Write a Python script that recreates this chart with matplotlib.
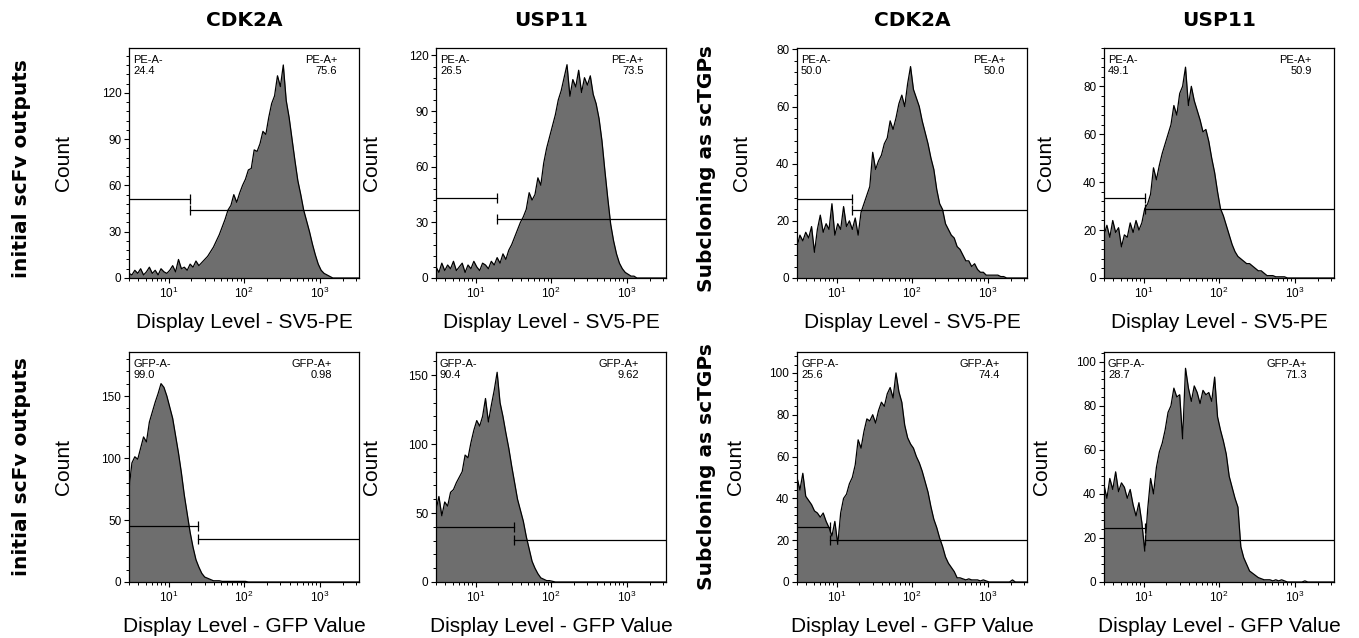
import numpy as np
import matplotlib
matplotlib.use('Agg')
import matplotlib.pyplot as plt
from matplotlib.ticker import (LogLocator, NullFormatter, LogFormatterSciNotation,
                               MultipleLocator, AutoMinorLocator)

plt.rcParams['font.family'] = ['Liberation Sans', 'DejaVu Sans']
plt.rcParams['mathtext.default'] = 'regular'

# histogram counts, 80 log-spaced bins across the x range
cdk2a_pe_init = [3, 2, 5, 3, 6, 2, 4, 7, 3, 5, 2, 6, 4, 3,
                 5, 8, 4, 12, 6, 7, 5, 9, 7, 11, 8, 10,
                 12, 14, 17, 20, 24, 28, 33, 38, 44, 47, 54, 49, 55, 60, 64, 70, 71, 83, 82, 87,
                 95, 93, 104, 113,
                 118, 131, 124, 138, 115, 104, 90, 76, 63, 54, 44, 37, 30, 22, 15, 9, 5, 3, 2, 1,
                 0, 0, 0, 0, 0, 0, 0, 0, 0, 0]
usp11_pe_init = [6, 3, 8, 4, 7, 5, 9, 4, 6, 8, 3, 7, 5, 9, 6, 4, 8, 7, 5,
                 9, 7, 11, 8, 13, 10, 15,
                 18, 22, 26, 30, 33, 37, 46, 42, 45, 54, 50, 62, 70, 76, 82, 88, 96, 101, 108, 115,
                 98, 107, 103, 112,
                 100, 108, 104, 109, 99, 94, 86, 74, 58, 43, 29, 20, 13, 8, 5, 3, 2, 1, 1, 0,
                 0, 0, 0, 0, 0, 0, 0, 0, 0, 0]
cdk2a_pe_sub = [11, 15, 13, 16, 14, 18, 9, 17, 22, 16, 19, 17, 26, 15, 19, 17, 25, 18, 20, 17,
                21, 15, 23, 26, 29, 32,
                44, 38, 41, 43, 47, 49, 55, 52, 56, 61, 64, 60, 68, 74, 66, 63, 60, 55, 51, 47,
                42, 38, 31, 26,
                24, 19, 17, 15, 14, 11, 10, 8, 6, 6, 4, 5, 3, 2, 2, 1, 1, 1, 1, 1, 0.5, 0.5,
                0, 0, 0, 0, 0, 0, 0, 0]
usp11_pe_sub = [18, 22, 17, 24, 19, 21, 13, 18, 17, 23, 19, 24, 20, 23,
                29, 31, 35, 46, 41, 47, 52, 56, 60, 64, 72, 68, 77, 80, 88, 72, 80, 74, 70, 66,
                61, 62, 57, 50, 44, 36,
                29, 26, 22, 18, 14, 11, 9, 8, 7, 6, 6, 5, 4, 3, 3, 2, 1, 1, 1, 0.5, 0.5, 0.5, 0.5,
                0, 0, 0, 0, 0, 0, 0, 0, 0, 0, 0, 0, 0, 0, 0, 0, 0]
cdk2a_gfp_init = [75, 96, 101, 99, 108, 117, 113, 129, 137, 145, 152, 160, 157, 150, 141, 132,
                  118, 104, 88, 70, 55, 40, 28, 18, 12, 7, 4, 3, 2, 1, 1, 1,
                  0.5, 0.5, 0.5, 0.5, 0.5, 0.5, 0.5, 0.5, 0.5,
                  0, 0, 0, 0, 0, 0, 0, 0, 0, 0, 0, 0, 0, 0, 0, 0, 0, 0, 0, 0,
                  0, 0, 0, 0, 0, 0, 0, 0, 0, 0, 0, 0, 0, 0, 0, 0, 0, 0, 0]
usp11_gfp_init = [52, 62, 48, 58, 55, 65, 67, 72, 76, 80, 92, 90, 101, 110, 117, 113, 120, 133,
                  116, 128, 139, 152, 130, 120, 108, 97, 84, 72, 60, 52, 44, 33, 24, 15, 10, 6,
                  3, 2, 1, 1, 0.5,
                  0, 0, 0, 0, 0, 0, 0, 0, 0, 0, 0, 0, 0, 0, 0, 0, 0, 0, 0, 0,
                  0, 0, 0, 0, 0, 0, 0, 0, 0, 0, 0, 0, 0, 0, 0, 0, 0, 0, 0]
cdk2a_gfp_sub = [50, 44, 52, 41, 39, 37, 34, 33, 31, 33, 29, 26, 22, 29, 18, 33, 40, 42, 47, 50,
                 56, 68, 64, 72, 78, 77, 80, 76, 82, 86, 84, 90, 93, 88, 100, 91, 86, 75, 69, 66,
                 64, 60, 57, 53, 48, 43, 36, 30, 26, 21, 17, 12, 9, 7, 5, 2, 2, 1.5, 1, 1.5,
                 1, 1, 1, 0.5, 1, 0.5, 0, 0, 0, 0, 0, 0, 0, 0, 1, 0, 0, 0, 0, 0]
usp11_gfp_sub = [44, 38, 47, 42, 50, 41, 45, 43, 38, 42, 35, 30, 36, 27, 14, 33, 47, 40, 52, 59,
                 63, 69, 77, 80, 88, 84, 85, 65, 97, 88, 82, 89, 86, 81, 87, 85, 86, 82, 93, 75,
                 69, 64, 58, 48, 43, 38, 34, 16, 11, 8, 5, 4, 3, 2, 1.5, 1, 1, 1, 0.5, 1,
                 0.5, 1, 0.5, 0, 0, 0, 0, 0, 0, 0.5, 0, 0, 0, 0, 0, 0, 0, 0, 0, 0]

counts = [cdk2a_pe_init, usp11_pe_init, cdk2a_pe_sub, usp11_pe_sub,
          cdk2a_gfp_init, usp11_gfp_init, cdk2a_gfp_sub, usp11_gfp_sub]

col_titles = ['CDK2A', 'USP11', 'CDK2A', 'USP11']
group_labels = ['initial scFv outputs', 'Subcloning as scTGPs']
x_labels = ['Display Level - SV5-PE', 'Display Level - GFP Value']
gate_names = [('PE-A-', 'PE-A+'), ('GFP-A-', 'GFP-A+')]
neg_pct = ['24.4', '26.5', '50.0', '49.1', '99.0', '90.4', '25.6', '28.7']
pos_pct = ['75.6', '73.5', '50.0', '50.9', '0.98', '9.62', '74.4', '71.3']

gate_split = [19, 19.3, 15.8, 10.6, 24.8, 32.7, 8.2, 10.6]
gate_neg_y = [51, 43, 27.6, 33.4, 44.9, 39.7, 26.4, 24.7]
gate_pos_y = [44, 32, 23.8, 28.9, 34.8, 30.5, 20.3, 18.9]

y_max = [149, 124, 80.5, 96, 185.5, 166.7, 110, 104.4]
y_step = [30, 30, 20, 20, 50, 50, 20, 20]

log_lo, log_hi = 0.477, 3.518
centers = np.logspace(log_lo, log_hi, len(cdk2a_pe_init))

W, H = 1359, 638
lefts = [129, 436, 797, 1104]
tops = [48, 352]
aw, ah = 230, 230
count_x = [[63, 371, 741, 1045], [63, 371, 735, 1042]]
fill_col = '#6e6e6e'

fig = plt.figure(figsize=(W / 100, H / 100), dpi=100)

for k in range(8):
    row, col = divmod(k, 4)
    left, top = lefts[col], tops[row]
    ax = fig.add_axes([left / W, 1 - (top + ah) / H, aw / W, ah / H])
    ax.set_xscale('log')
    ax.fill_between(centers, counts[k], 0, color=fill_col, lw=0)
    ax.plot(centers, counts[k], color='k', lw=0.9)

    # gates
    ax.plot([centers[0], gate_split[k]], [gate_neg_y[k]] * 2, color='k', lw=0.9)
    ax.plot([gate_split[k], centers[-1]], [gate_pos_y[k]] * 2, color='k', lw=0.9)
    ax.plot([gate_split[k], gate_split[k]], [gate_neg_y[k], gate_pos_y[k]],
            ls='none', marker='|', ms=7, mew=0.9, color='k')

    ax.set_xlim(centers[0], centers[-1])
    ax.set_ylim(0, y_max[k])
    ax.xaxis.set_major_locator(LogLocator(base=10))
    ax.xaxis.set_minor_locator(LogLocator(base=10, subs=np.arange(2, 10)))
    ax.xaxis.set_major_formatter(LogFormatterSciNotation())
    ax.xaxis.set_minor_formatter(NullFormatter())
    ax.yaxis.set_major_locator(MultipleLocator(y_step[k]))
    ax.yaxis.set_minor_locator(AutoMinorLocator(5))
    ax.tick_params(which='major', direction='out', length=3.5, width=0.8,
                   labelsize=8.5, pad=2)
    ax.tick_params(which='minor', direction='out', length=2, width=0.7)
    for s in ax.spines.values():
        s.set_linewidth(0.9)

    neg_name, pos_name = gate_names[row]
    inset = 22 if row == 0 else 27
    ax.text(4 / aw, 1 - 7 / ah, f'{neg_name}\n{neg_pct[k]}', transform=ax.transAxes,
            ha='left', va='top', fontsize=8, linespacing=1.15)
    ax.text(1 - inset / aw, 1 - 7 / ah, f'{pos_name}\n{pos_pct[k]}', transform=ax.transAxes,
            ha='right', va='top', fontsize=8, linespacing=1.15, multialignment='right')

    cx = left + aw / 2
    fig.text(cx / W, 1 - (top + ah + 44) / H, x_labels[row], ha='center', va='center',
             fontsize=15)
    fig.text(count_x[row][col] / W, 1 - (top + ah / 2) / H, 'Count', rotation=90,
             ha='center', va='center', fontsize=15)
    if row == 0:
        fig.text(cx / W, 1 - 20.5 / H, col_titles[col], ha='center', va='center',
                 fontsize=14.5, fontweight='bold', family='DejaVu Sans')

for row, yc in enumerate([169, 467]):
    fig.text(22 / W, 1 - yc / H, group_labels[0], rotation=90, ha='center', va='center',
             fontsize=14.5, fontweight='bold', family='DejaVu Sans')
    fig.text(707 / W, 1 - yc / H, group_labels[1], rotation=90, ha='center', va='center',
             fontsize=14.5, fontweight='bold', family='DejaVu Sans')

fig.savefig('out.png', dpi=100)
